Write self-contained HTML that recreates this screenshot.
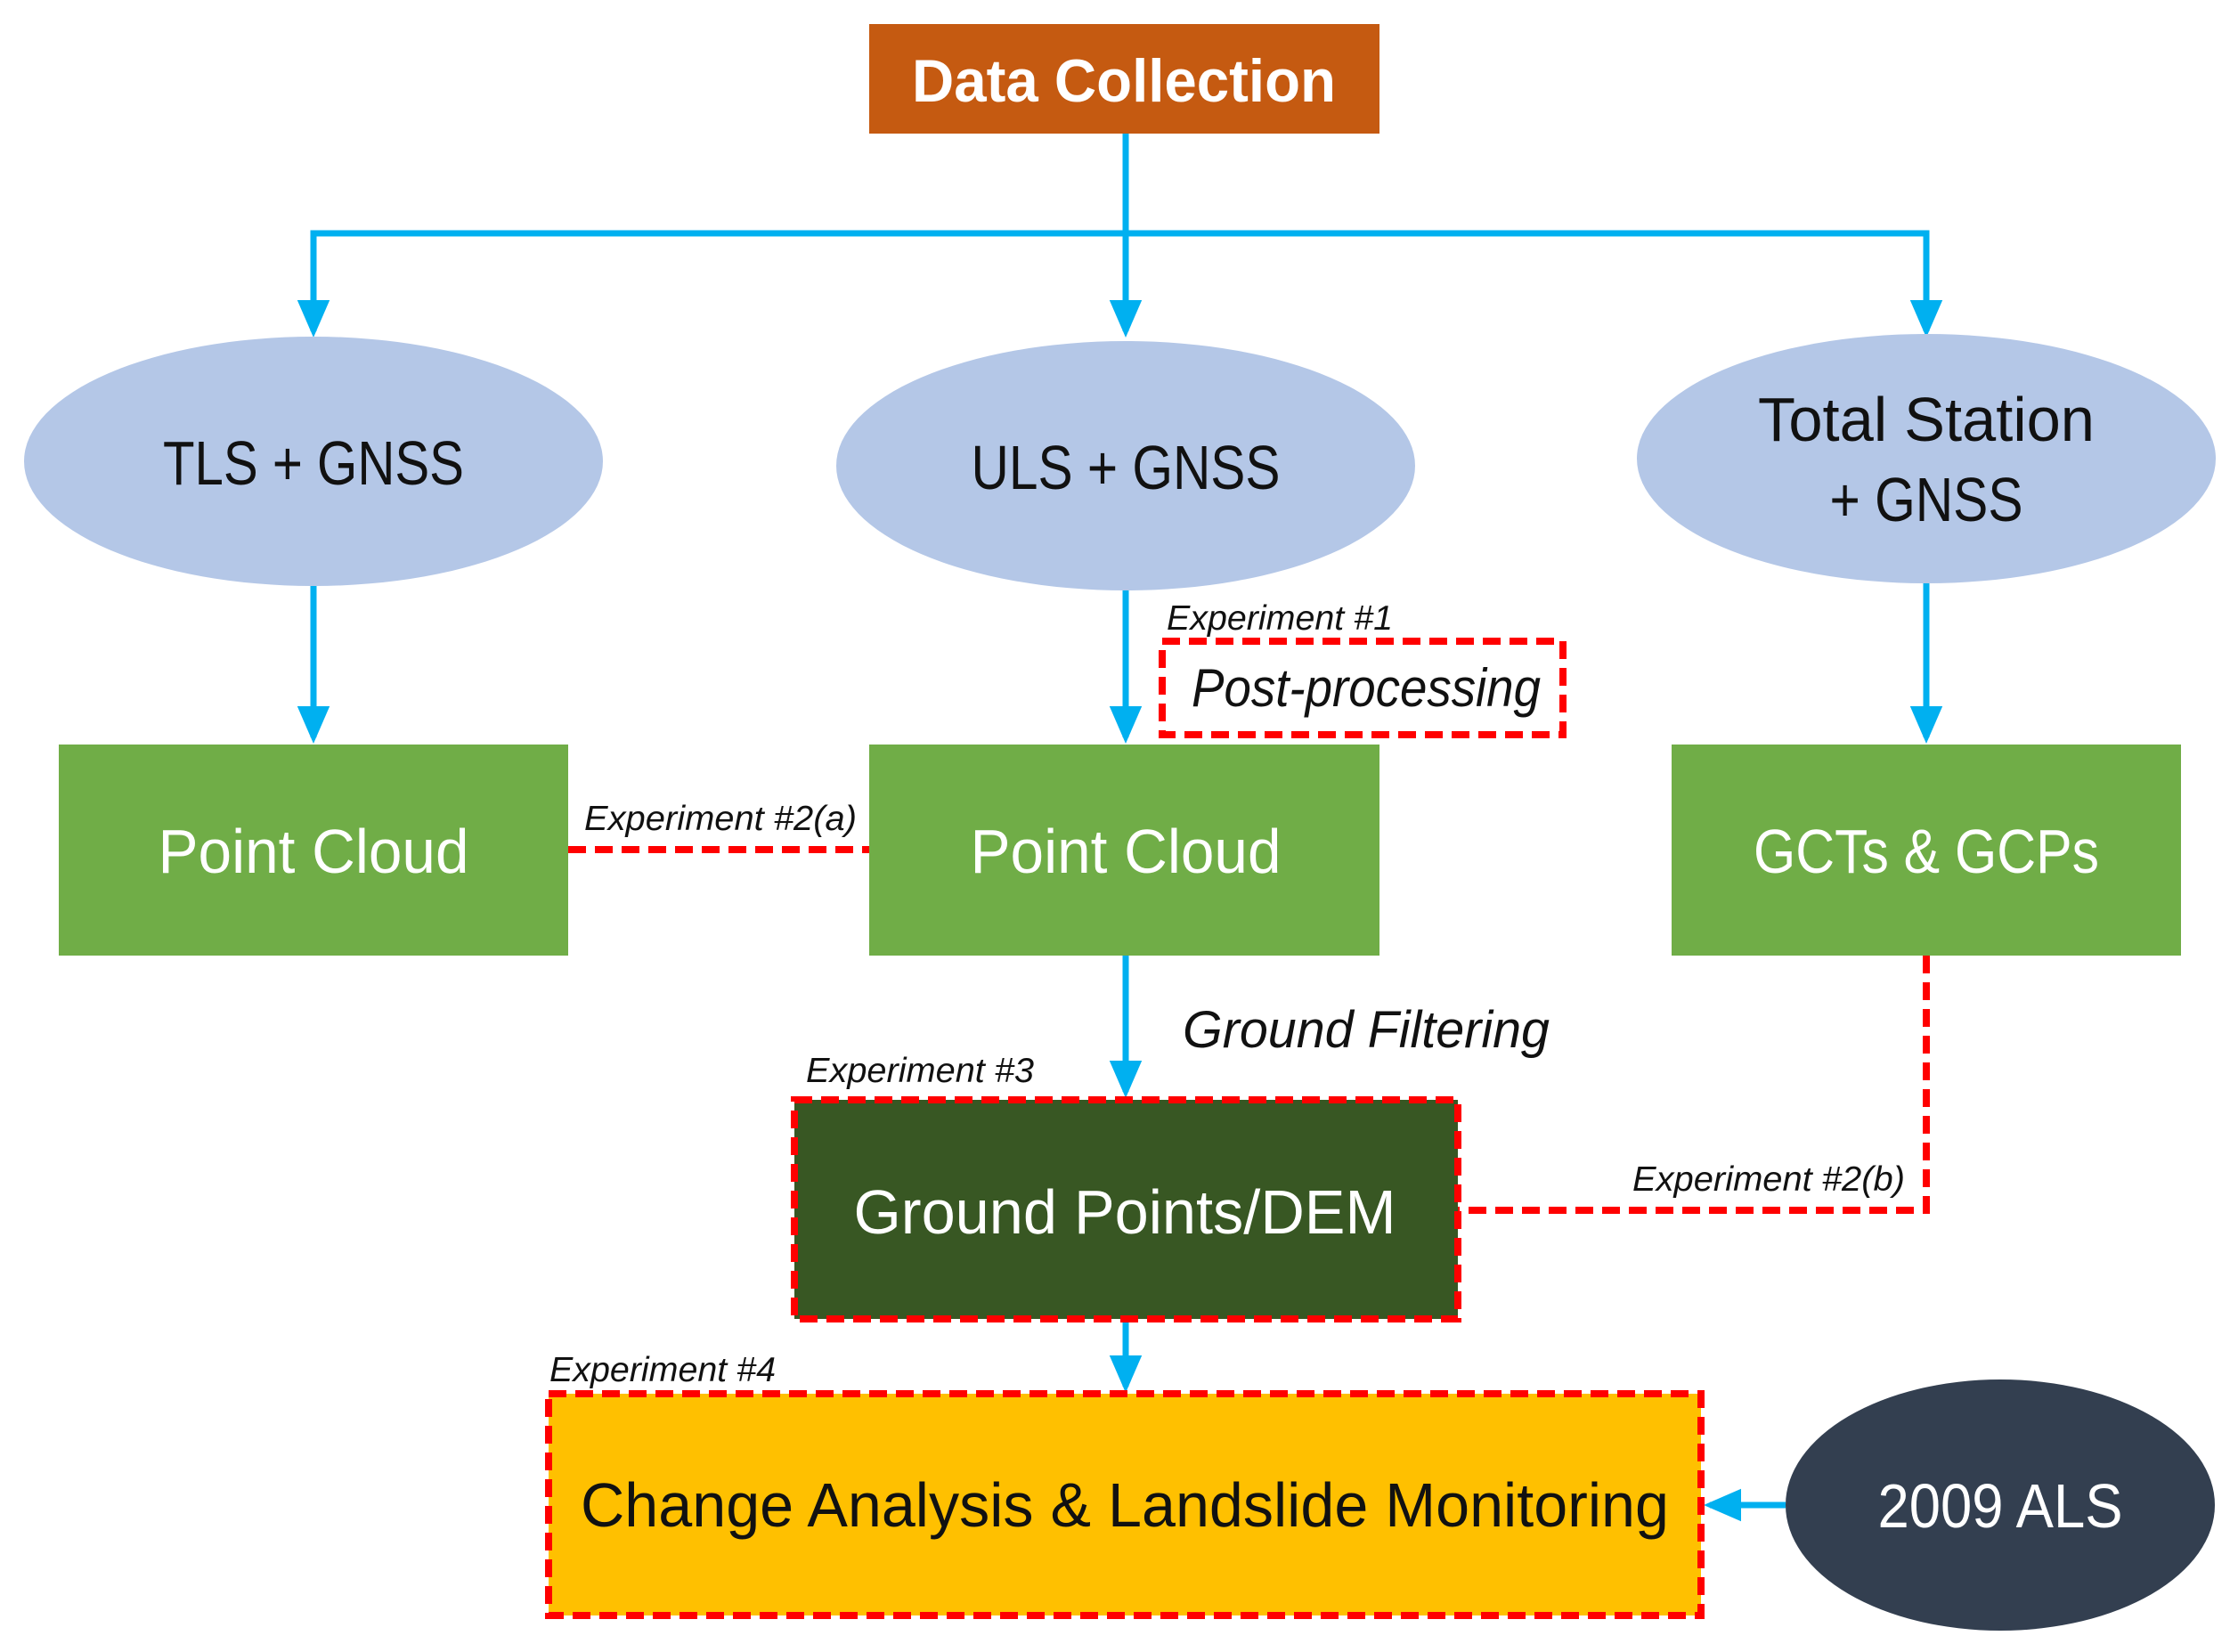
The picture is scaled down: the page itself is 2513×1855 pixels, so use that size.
<!DOCTYPE html>
<html><head><meta charset="utf-8"><style>html,body{margin:0;padding:0;background:#fff}svg{display:block}</style></head>
<body>
<svg width="2513" height="1855" viewBox="0 0 2513 1855" xmlns="http://www.w3.org/2000/svg" font-family="Liberation Sans, sans-serif">
<defs>
<marker id="ah" markerWidth="6" markerHeight="6" refX="5" refY="3" orient="auto" markerUnits="strokeWidth">
<path d="M0,0.4 L6,3 L0,5.6 Z" fill="#00B0F0"/></marker>
</defs>
<g stroke="#00B0F0" stroke-width="7" fill="none">
<line x1="1264" y1="150" x2="1264" y2="372" marker-end="url(#ah)"/>
<polyline points="352,372 352,262 2163,262 2163,372" marker-end="url(#ah)"/>
<line x1="352" y1="262" x2="352" y2="372" marker-end="url(#ah)"/>
<line x1="352" y1="658" x2="352" y2="828" marker-end="url(#ah)"/>
<line x1="1264" y1="663" x2="1264" y2="828" marker-end="url(#ah)"/>
<line x1="2163" y1="655" x2="2163" y2="828" marker-end="url(#ah)"/>
<line x1="1264" y1="1073" x2="1264" y2="1226" marker-end="url(#ah)"/>
<line x1="1264" y1="1481" x2="1264" y2="1557" marker-end="url(#ah)"/>
<line x1="2005" y1="1690" x2="1920" y2="1690" marker-end="url(#ah)"/>
</g>
<rect x="976" y="27" width="573" height="123" fill="#C55A11"/>
<text x="1262" y="114" fill="#fff" font-size="68" font-weight="bold" text-anchor="middle" textLength="476" lengthAdjust="spacingAndGlyphs">Data Collection</text>
<g fill="#B4C7E7">
<ellipse cx="352" cy="518" rx="325" ry="140"/>
<ellipse cx="1264" cy="523" rx="325" ry="140"/>
<ellipse cx="2163" cy="515" rx="325" ry="140"/>
</g>
<g fill="#111" font-size="70" text-anchor="middle">
<text x="352" y="544" textLength="338" lengthAdjust="spacingAndGlyphs">TLS + GNSS</text>
<text x="1264" y="549" textLength="347" lengthAdjust="spacingAndGlyphs">ULS + GNSS</text>
<text x="2163" y="495" textLength="378" lengthAdjust="spacingAndGlyphs">Total Station</text>
<text x="2163" y="585" textLength="217" lengthAdjust="spacingAndGlyphs">+ GNSS</text>
</g>
<g fill="#70AD47">
<rect x="66" y="836" width="572" height="237"/>
<rect x="976" y="836" width="573" height="237"/>
<rect x="1877" y="836" width="572" height="237"/>
</g>
<g fill="#fff" font-size="70" text-anchor="middle">
<text x="352" y="980" textLength="349" lengthAdjust="spacingAndGlyphs">Point Cloud</text>
<text x="1264" y="980" textLength="349" lengthAdjust="spacingAndGlyphs">Point Cloud</text>
<text x="2163" y="980" textLength="388" lengthAdjust="spacingAndGlyphs">GCTs &amp; GCPs</text>
</g>
<rect x="892" y="1235" width="745" height="246" fill="#385723"/>
<text x="1263" y="1385" fill="#fff" font-size="70" text-anchor="middle" textLength="609" lengthAdjust="spacingAndGlyphs">Ground Points/DEM</text>
<rect x="616" y="1565" width="1294" height="249" fill="#FFC000"/>
<text x="1263" y="1714" fill="#111" font-size="70" text-anchor="middle" textLength="1222" lengthAdjust="spacingAndGlyphs">Change Analysis &amp; Landslide Monitoring</text>
<ellipse cx="2246" cy="1690" rx="241" ry="141" fill="#333F50"/>
<text x="2246" y="1715" fill="#fff" font-size="70" text-anchor="middle" textLength="275" lengthAdjust="spacingAndGlyphs">2009 ALS</text>
<g stroke="#FF0000" stroke-width="8" fill="none" stroke-dasharray="20,10">
<rect x="1305" y="720" width="450" height="105"/>
<line x1="638" y1="954" x2="976" y2="954"/>
<rect x="892" y="1235" width="745" height="246"/>
<polyline points="2163,1073 2163,1359 1637,1359"/>
<rect x="616" y="1565" width="1294" height="249"/>
</g>
<g fill="#111" font-style="italic">
<text x="1338" y="793" font-size="60" textLength="392" lengthAdjust="spacingAndGlyphs">Post-processing</text>
<text x="1328" y="1176" font-size="58" textLength="412" lengthAdjust="spacingAndGlyphs">Ground Filtering</text>
<g font-size="39">
<text x="1310" y="707" textLength="254" lengthAdjust="spacingAndGlyphs">Experiment #1</text>
<text x="656" y="932" textLength="306" lengthAdjust="spacingAndGlyphs">Experiment #2(a)</text>
<text x="905" y="1215" textLength="256" lengthAdjust="spacingAndGlyphs">Experiment #3</text>
<text x="1833" y="1337" textLength="306" lengthAdjust="spacingAndGlyphs">Experiment #2(b)</text>
<text x="617" y="1551" textLength="254" lengthAdjust="spacingAndGlyphs">Experiment #4</text>
</g>
</g>
</svg>
</body></html>
